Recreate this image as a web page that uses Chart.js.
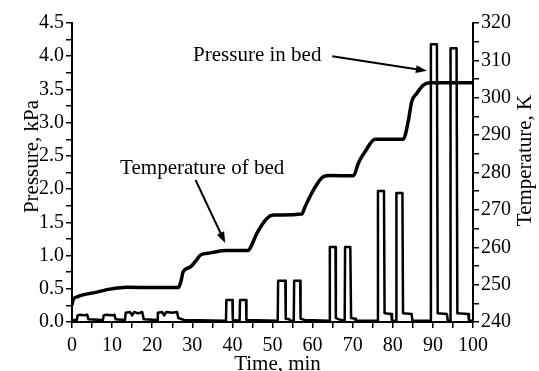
<!DOCTYPE html>
<html>
<head>
<meta charset="utf-8">
<script src="https://cdn.jsdelivr.net/npm/chart.js@4.4.1/dist/chart.umd.min.js"></script>
<style>
  body { margin: 0; background: #fff; }
  canvas { display: block; }
</style>
</head>
<body>
<canvas id="myChart" width="539" height="371"></canvas>
<script>
// pressure pulses (time in min, pressure in kPa)
const pressureTime = [
  0, 1.2, 1.4, 2.0, 3.0, 3.8, 4.1,
  7.7, 7.9, 8.5, 10.0, 10.6, 10.9,
  13.2, 13.4, 14.5, 15.0, 15.5, 16.5, 17.5, 17.9,
  21.2, 21.4, 22.5, 23.0, 23.5, 25.0, 26.2, 26.5, 28,
  38.4, 38.5, 40.0, 40.1,
  41.8, 41.9, 43.4, 43.5,
  51.3, 51.4, 53.2, 53.3, 54.2, 54.4,
  55.3, 55.4, 56.9, 57.0, 58,
  64.2, 64.3, 65.7, 65.8, 66.6,
  68.0, 68.1, 69.4, 69.6, 70.6, 70.8,
  76.2, 76.3, 77.8, 77.95, 79.6, 79.8,
  80.8, 80.9, 82.4, 82.55, 84.7, 84.9,
  89.4, 89.5, 91.0, 91.2, 93.5, 93.7,
  94.3, 94.4, 95.9, 96.1, 98.8, 99.0, 100
];
const pressureKPa = [
  0.03, 0.03, 0.10, 0.11, 0.10, 0.11, 0.04,
  0.03, 0.10, 0.11, 0.10, 0.11, 0.04,
  0.03, 0.14, 0.15, 0.10, 0.15, 0.13, 0.15, 0.04,
  0.03, 0.14, 0.15, 0.10, 0.15, 0.14, 0.15, 0.06, 0.03,
  0.02, 0.33, 0.33, 0.03,
  0.02, 0.33, 0.33, 0.03,
  0.02, 0.62, 0.62, 0.05, 0.04, 0.02,
  0.02, 0.62, 0.62, 0.05, 0.03,
  0.02, 1.13, 1.13, 0.06, 0.04,
  0.02, 1.13, 1.13, 0.06, 0.05, 0.02,
  0.02, 1.97, 1.97, 0.13, 0.12, 0.02,
  0.02, 1.94, 1.94, 0.13, 0.12, 0.02,
  0.02, 4.18, 4.18, 0.13, 0.12, 0.02,
  0.02, 4.12, 4.12, 0.13, 0.12, 0.02, 0.02
];

// bed temperature (time in min, K)
const tempTime = [
  0, 0.3, 1.5, 2.5, 5.3, 9.5, 13.8, 20, 26.5,
  27.2, 27.7, 29.5, 31, 32, 34.5, 38.6, 43.9,
  44.4, 46.1, 48.6, 50.2, 57.3,
  58.1, 60.2, 62.7, 64.4, 70.2,
  71.4, 73.1, 75.6, 82.6,
  83.9, 84.7, 86, 87.6, 89.3, 100
];
const tempK = [
  244.5, 246.0, 246.8, 247.2, 247.8, 248.8, 249.3, 249.2, 249.2,
  251.0, 253.4, 254.7, 256.5, 257.9, 258.5, 259.1, 259.1,
  259.7, 263.7, 267.7, 268.6, 268.9,
  270.8, 275.3, 278.9, 279.2, 279.1,
  282.5, 285.6, 288.9, 288.9,
  294.0, 298.9, 301.2, 303.4, 304.0, 304.0
];

// annotations: [text, text x (min), text baseline (kPa), arrow from, arrow to]
const notes = [
  ['Temperature of bed', 12.0, 2.22, [30.8, 2.14], [38.2, 1.19]],
  ['Pressure in bed', 30.2, 3.93, [64.9, 4.0], [88.5, 3.78]]
];

const FONT = 'Liberation Serif, Times New Roman, serif';

function pts(xs, ys) {
  return xs.map((x, i) => ({ x: x, y: ys[i] }));
}

function arrow(ctx, x1, y1, x2, y2) {
  const a = Math.atan2(y2 - y1, x2 - x1);
  const len = 11, w = 4;
  ctx.beginPath();
  ctx.moveTo(x1, y1);
  ctx.lineTo(x2 - len * Math.cos(a) * 0.8, y2 - len * Math.sin(a) * 0.8);
  ctx.stroke();
  ctx.beginPath();
  ctx.moveTo(x2, y2);
  ctx.lineTo(x2 - len * Math.cos(a) + w * Math.sin(a), y2 - len * Math.sin(a) - w * Math.cos(a));
  ctx.lineTo(x2 - len * Math.cos(a) - w * Math.sin(a), y2 - len * Math.sin(a) + w * Math.cos(a));
  ctx.closePath();
  ctx.fill();
}

const extras = {
  id: 'extras',
  afterDraw(chart) {
    const ctx = chart.ctx;
    const xs = chart.scales.x, ys = chart.scales.y;
    const area = chart.chartArea;
    ctx.save();
    ctx.fillStyle = '#000';
    ctx.strokeStyle = '#000';
    ctx.lineWidth = 2;
    ctx.font = '21px ' + FONT;
    ctx.textBaseline = 'alphabetic';
    ctx.textAlign = 'left';
    notes.forEach(n => {
      ctx.fillText(n[0], xs.getPixelForValue(n[1]), ys.getPixelForValue(n[2]));
      arrow(ctx, xs.getPixelForValue(n[3][0]), ys.getPixelForValue(n[3][1]),
                 xs.getPixelForValue(n[4][0]), ys.getPixelForValue(n[4][1]));
    });

    // axis titles
    const midY = (area.top + area.bottom) / 2;
    ctx.textAlign = 'center';
    ctx.textBaseline = 'middle';
    ctx.save();
    ctx.translate(area.left - 40, midY - 16);
    ctx.rotate(-Math.PI / 2);
    ctx.fillText('Pressure, kPa', 0, 0);
    ctx.restore();
    ctx.save();
    ctx.translate(area.right + 52, midY - 12);
    ctx.rotate(-Math.PI / 2);
    ctx.fillText('Temperature, K', 0, 0);
    ctx.restore();
    ctx.fillText('Time, min', (area.left + area.right) / 2 + 5, area.bottom + 42);
    ctx.restore();
  }
};

function halfLabel(v) {
  return Math.abs(v * 2 - Math.round(v * 2)) < 1e-6 ? v.toFixed(1) : '';
}
function tenLabel(v) {
  return Math.abs(v / 10 - Math.round(v / 10)) < 1e-6 ? String(v) : '';
}

const gridOpts = { drawOnChartArea: false, drawTicks: true, tickLength: 6, color: '#000', lineWidth: 1.5 };
const borderOpts = { display: true, color: '#000', width: 2 };
const tickFont = { family: FONT, size: 20 };

const config = {
  type: 'line',
  data: {
    datasets: [{
      label: 'Pressure',
      data: pts(pressureTime, pressureKPa),
      yAxisID: 'y',
      borderColor: '#000',
      borderWidth: 2.5,
      pointRadius: 0,
      tension: 0,
      borderJoinStyle: 'round'
    }, {
      label: 'Temperature',
      data: pts(tempTime, tempK),
      yAxisID: 'y1',
      borderColor: '#000',
      borderWidth: 3.5,
      pointRadius: 0,
      cubicInterpolationMode: 'monotone',
      borderJoinStyle: 'round'
    }]
  },
  options: {
    responsive: false,
    animation: false,
    devicePixelRatio: 1,
    layout: { padding: { top: 23, left: 0, right: 0, bottom: 0 } },
    plugins: { legend: { display: false }, tooltip: { enabled: false } },
    scales: {
      x: {
        type: 'linear', min: 0, max: 100,
        grid: gridOpts, border: borderOpts,
        ticks: { stepSize: 5, autoSkip: false, maxRotation: 0, color: '#000', font: tickFont, padding: 6, callback: tenLabel },
        afterFit(s) { s.height = 49; }
      },
      y: {
        position: 'left', min: 0, max: 4.5,
        grid: gridOpts, border: borderOpts,
        ticks: { stepSize: 0.25, autoSkip: false, color: '#000', font: tickFont, padding: 2, callback: halfLabel },
        afterFit(s) { s.width = 72; }
      },
      y1: {
        position: 'right', min: 240, max: 320,
        grid: gridOpts, border: borderOpts,
        ticks: { stepSize: 5, autoSkip: false, color: '#000', font: tickFont, padding: 2, callback: tenLabel },
        afterFit(s) { s.width = 66; }
      }
    }
  },
  plugins: [extras]
};

var myChart = new Chart(document.getElementById('myChart'), config);
</script>
</body>
</html>
